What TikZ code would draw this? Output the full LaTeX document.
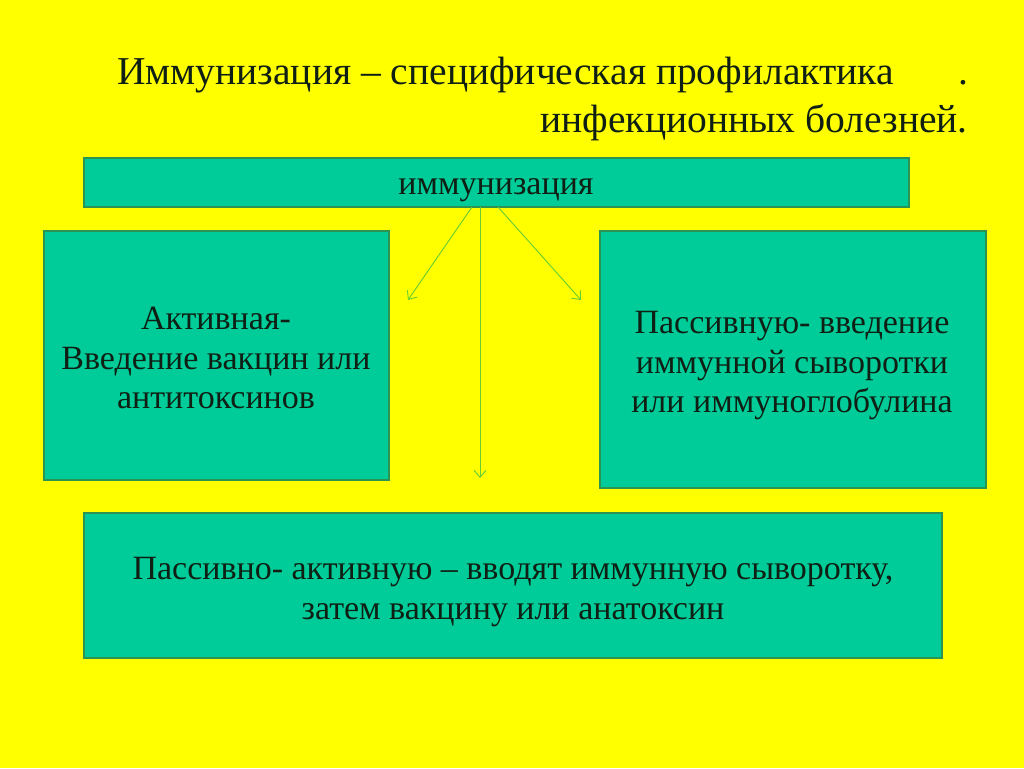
\documentclass[tikz,border=0pt]{standalone}
\usepackage{fontspec}
\setmainfont{Liberation Serif}
\usetikzlibrary{arrows.meta}
\definecolor{bg}{HTML}{FFFF00}
\definecolor{boxfill}{HTML}{00CC99}
\definecolor{boxline}{HTML}{2A9450}
\definecolor{arr}{HTML}{66CC33}
\definecolor{txt}{HTML}{0F1F14}
\tikzset{
  box/.style={draw=boxline, line width=2.2pt, fill=boxfill, inner sep=0pt},
  boxtext/.style={text=txt, align=center, font=\fontsize{34}{39.5}\selectfont},
  titletext/.style={text=txt, inner sep=0pt, font=\fontsize{39.5}{44}\selectfont},
  link/.style={draw=arr, line width=0.9pt, -{Straight Barb[length=7pt,width=12pt]}},
}
\begin{document}
\begin{tikzpicture}[x=1pt,y=-1pt]
\fill[bg] (0,0) rectangle (1024,768);
\useasboundingbox (0,0) rectangle (1024,768);
% title
\node[titletext, anchor=base west] (t1) at (117,84) {Иммунизация – специфическая профилактика};
\node[titletext, anchor=base west] (t1b) at (958,84) {.};
\node[titletext, anchor=base east] (t2) at (968,132) {инфекционных болезней.};
% boxes
\draw[box] (84,158) rectangle (909,207);
\node[boxtext, anchor=base] (top) at (496,194) {иммунизация};
\draw[box] (44,231) rectangle (389,480);
\node[boxtext] (left) at (216,358) {Активная-\\Введение вакцин или\\антитоксинов};
\draw[box] (600,231) rectangle (986,488);
\node[boxtext] (right) at (792,366) {Пассивную- введение\\иммунной сыворотки\\или иммуноглобулина};
\draw[box] (84,513) rectangle (942,658);
\node[boxtext] (bottom) at (513,592) {Пассивно- активную – вводят иммунную сыворотку,\\затем вакцину или анатоксин};
% connectors
\coordinate (s1) at (472,207);
\coordinate (s2) at (480,207);
\coordinate (s3) at (498,207);
\coordinate (e1) at (408,300);
\coordinate (e2) at (480,478);
\coordinate (e3) at (581,300);
\draw[link] (s1) -- (e1);
\draw[link] (s2) -- (e2);
\draw[link] (s3) -- (e3);
\end{tikzpicture}
\end{document}
